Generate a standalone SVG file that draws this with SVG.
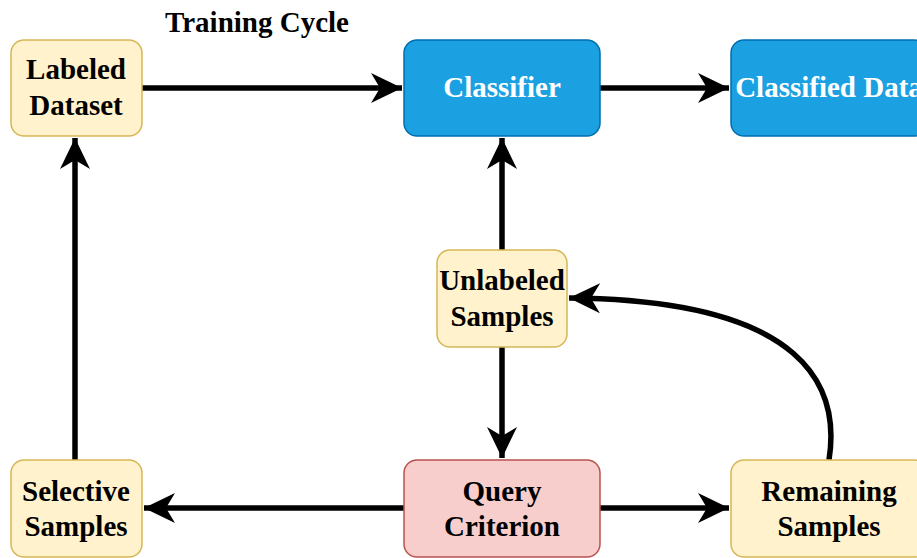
<svg xmlns="http://www.w3.org/2000/svg" width="917" height="558" viewBox="0 0 917 558">
<style>
.y{fill:#fff2cc;stroke:#d6b656;stroke-width:1.5}
.b{fill:#1ba1e2;stroke:#006eaf;stroke-width:1.5}
.r{fill:#f8cecc;stroke:#b85450;stroke-width:1.5}
text{font-family:"Liberation Serif","Times New Roman",serif;font-weight:bold;font-size:29px;text-anchor:middle}
.w{fill:#ffffff}
.k{fill:#000000}
.c{fill:none;stroke:#000;stroke-width:5.5}
</style>
<defs>
<marker id="ah" viewBox="0 0 32 32" refX="31" refY="16" markerWidth="32" markerHeight="32" markerUnits="userSpaceOnUse" orient="auto">
<path d="M0,1 L31,16 L0,31 L9,16 Z" fill="#000"/>
</marker>
</defs>
<text class="k" x="257" y="32">Training Cycle</text>
<g id="connectors">
<path class="c" d="M142,88 L402,88" marker-end="url(#ah)"/>
<path class="c" d="M600,88 L729,88" marker-end="url(#ah)"/>
<path class="c" d="M502,250 L502,138" marker-end="url(#ah)"/>
<path class="c" d="M502,347 L502,458" marker-end="url(#ah)"/>
<path class="c" d="M404,508 L144,508" marker-end="url(#ah)"/>
<path class="c" d="M600,508 L729,508" marker-end="url(#ah)"/>
<path class="c" d="M75,460 L75,138" marker-end="url(#ah)"/>
<path class="c" d="M829,460 C840,390 810,300 569,298" marker-end="url(#ah)"/>
</g>
<g id="labeled-dataset">
<rect class="y" x="11" y="40" width="131" height="96" rx="13"/>
<text class="k" x="76" y="79">Labeled</text>
<text class="k" x="76" y="115">Dataset</text>
</g>
<g id="classifier">
<rect class="b" x="404" y="40" width="196" height="96" rx="13"/>
<text class="w" x="502" y="97">Classifier</text>
</g>
<g id="classified-data">
<rect class="b" x="731" y="40" width="196" height="96" rx="13"/>
<text class="w" x="829" y="97">Classified Data</text>
</g>
<g id="unlabeled-samples">
<rect class="y" x="437" y="250" width="130" height="97" rx="13"/>
<text class="k" x="502" y="290">Unlabeled</text>
<text class="k" x="502" y="326">Samples</text>
</g>
<g id="query-criterion">
<rect class="r" x="404" y="460" width="196" height="97" rx="13"/>
<text class="k" x="502" y="501">Query</text>
<text class="k" x="502" y="536">Criterion</text>
</g>
<g id="remaining-samples">
<rect class="y" x="731" y="460" width="196" height="97" rx="13"/>
<text class="k" x="829" y="501">Remaining</text>
<text class="k" x="829" y="536">Samples</text>
</g>
<g id="selective-samples">
<rect class="y" x="11" y="460" width="131" height="97" rx="13"/>
<text class="k" x="76" y="501">Selective</text>
<text class="k" x="76" y="536">Samples</text>
</g>
</svg>
